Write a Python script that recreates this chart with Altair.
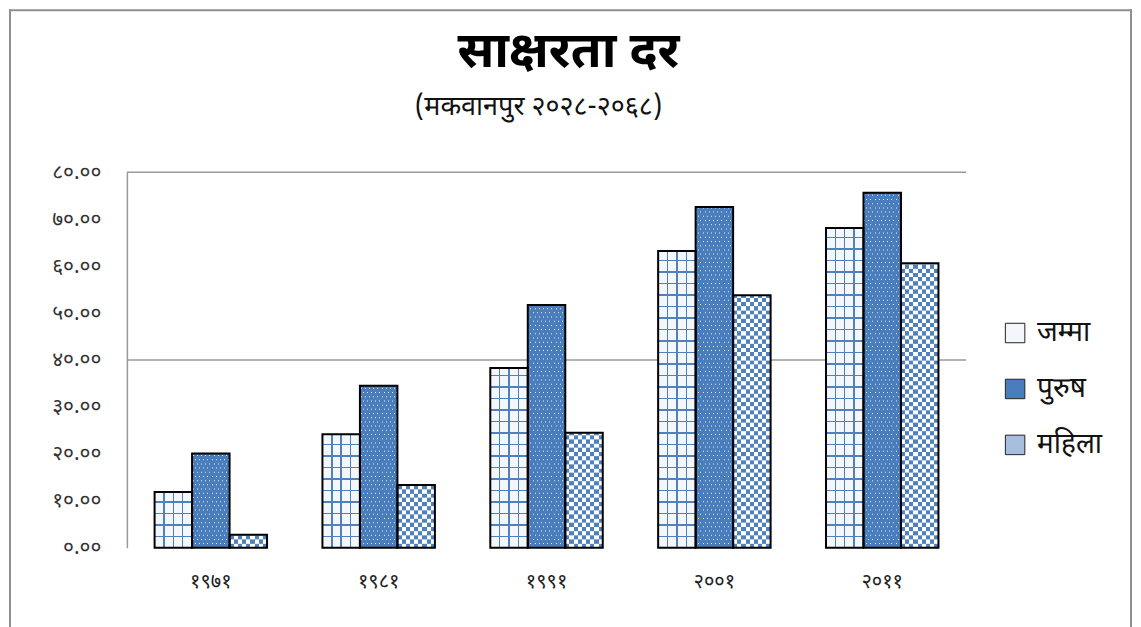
import json
import altair as alt
import pandas as pd

# ---- data ----
years = ["१९७१", "१९८१", "१९९१", "२००१", "२०११"]
series_names = ["जम्मा", "पुरुष", "महिला"]
jamma = [11.9, 24.2, 38.3, 63.2, 68.1]
purush = [20.1, 34.5, 51.7, 72.6, 75.6]
mahila = [2.8, 13.4, 24.5, 53.8, 60.6]
y_tick_values = [0, 10, 20, 30, 40, 50, 60, 70, 80]
y_tick_labels = ["०.००", "१०.००", "२०.००", "३०.००", "४०.००", "५०.००", "६०.००", "७०.००", "८०.००"]
grid_values = [40, 80]
title_text = "साक्षरता दर"
subtitle_text = "(मकवानपुर २०२८-२०६८)"

rows = []
for i, yr in enumerate(years):
    for j, (s, vals) in enumerate(zip(series_names, [jamma, purush, mahila])):
        rows.append({"year": yr, "series": s, "value": vals[i], "key": f"{j}_{i}"})
df = pd.DataFrame(rows)
grid_df = pd.DataFrame({"value": grid_values})

# ---- layout / style ----
W, H, YMAX = 840, 376, 80
PX = YMAX / H                      # data units per pixel
LEFT_EXT, TOP_GAP = 118, 163       # plot origin offset inside the chart
PAD_IN, PAD_OUT = 0.33, 0.165
STEP = W / (len(years) - PAD_IN + 2 * PAD_OUT)
BW = STEP * (1 - PAD_IN) / len(series_names)
BLUE = "#4f81bd"
FONT = "Noto Sans Devanagari, Lohit Devanagari, Mangal, Noto Sans, sans-serif"
CLEAR = "rgba(255,255,255,0)"
FRAME = "#8f8f8f"

xenc = alt.X("year:N", sort=years,
             scale=alt.Scale(domain=years, paddingInner=PAD_IN, paddingOuter=PAD_OUT),
             axis=alt.Axis(title=None, labelAngle=0, domain=False, ticks=False,
                           labelPadding=24, labelFontSize=20, labelFont=FONT, labelColor="#222"))
xoff = alt.XOffset("series:N", sort=series_names,
                   scale=alt.Scale(domain=series_names, paddingInner=0, paddingOuter=0))
label_expr = json.dumps(y_tick_labels, ensure_ascii=False) + "[round(datum.value/10)]"
yaxis = alt.Axis(title=None, values=y_tick_values, labelExpr=label_expr, grid=False,
                 domain=True, domainColor="#9a9a9a", domainWidth=1.5, ticks=False,
                 labelPadding=26, labelFontSize=21, labelFont=FONT, labelColor="#333",
                 minExtent=LEFT_EXT, maxExtent=LEFT_EXT)
yscale = alt.Scale(domain=[0, YMAX], nice=False, zero=True)
yenc = alt.Y("value:Q", scale=yscale, axis=yaxis)


def mk_stops(intervals, L, on, off):
    st = [(0.0, off)]
    for a, b in sorted(intervals):
        a, b = max(0.0, a), min(L, b)
        if b <= a:
            continue
        st += [(a / L, off), (a / L, on), (b / L, on), (b / L, off)]
    st.append((1.0, off))
    return [alt.GradientStop(offset=round(o, 5), color=c) for o, c in st]


def grad(stops, vertical):
    if vertical:
        return alt.LinearGradient(gradient="linear", stops=stops, x1=0, y1=0, x2=0, y2=1)
    return alt.LinearGradient(gradient="linear", stops=stops, x1=0, y1=0, x2=1, y2=0)


def from_bottom(L, period, thick):
    out, k = [], 1
    while True:
        c = L - k * period
        if c + thick < 0:
            break
        out.append((c - thick / 2, c + thick / 2))
        k += 1
    return out


def bars(filter_series=None, key=None, data=df):
    c = alt.Chart(data)
    if filter_series is not None:
        c = c.transform_filter(alt.FieldEqualPredicate(field="series", equal=filter_series))
    if key is not None:
        c = c.transform_filter(alt.FieldEqualPredicate(field="key", equal=key))
    return c


def enc(c):
    return c.encode(x=xenc, xOffset=xoff, y=yenc)


def seg_enc(c):
    return c.encode(x=xenc, xOffset=xoff, y=alt.Y("y0:Q", scale=yscale, axis=yaxis), y2="y1:Q")


# pattern strips derived from the series values
S = BW / 9          # checker square, px
DP = 4.2            # dot pitch, px
chk_rows, dot_rows = [], []
for i, yr in enumerate(years):
    v = mahila[i]
    k = 0
    while k * S * PX < v:
        chk_rows.append({"year": yr, "series": series_names[2], "y0": k * S * PX,
                         "y1": min((k + 1) * S * PX, v), "par": k % 2})
        k += 1
    v = purush[i]
    k = 1
    while k * DP * PX + PX < v:
        c = k * DP * PX
        dot_rows.append({"year": yr, "series": series_names[1], "y0": c - 0.5 * PX,
                         "y1": c + 0.5 * PX, "par": k % 2})
        k += 1
chk_df = pd.DataFrame(chk_rows)
dot_df = pd.DataFrame(dot_rows)

layers = []
# outer chart frame (decoration)
frame_df = pd.DataFrame({"f": [0]})
layers.append(alt.Chart(frame_df).mark_rule(color=FRAME, strokeWidth=2).encode(
    x=alt.value(-LEFT_EXT + 1), y=alt.value(-TOP_GAP), y2=alt.value(H + 120)))
layers.append(alt.Chart(frame_df).mark_rule(color=FRAME, strokeWidth=2).encode(
    x=alt.value(-LEFT_EXT), x2=alt.value(1006), y=alt.value(-TOP_GAP + 1)))
layers.append(alt.Chart(frame_df).mark_rule(color=FRAME, strokeWidth=2).encode(
    x=alt.value(1005), y=alt.value(-TOP_GAP), y2=alt.value(H + 120)))

# titles
layers.append(alt.Chart(pd.DataFrame({"t": [title_text]})).mark_text(
    font=FONT, fontSize=50, fontWeight="bold", color="#000", align="center", baseline="alphabetic"
).encode(text="t:N", x=alt.value(442), y=alt.value(-105)))
layers.append(alt.Chart(pd.DataFrame({"t": [subtitle_text]})).mark_text(
    font=FONT, fontSize=27, color="#111", align="center", baseline="alphabetic"
).encode(text="t:N", x=alt.value(412), y=alt.value(-57)))

# gridlines
layers.append(alt.Chart(grid_df).mark_rule(color="#9a9a9a", strokeWidth=1.5).encode(y=yenc))
# base bars (drive the legend)
layers.append(
    bars().mark_bar().encode(
        x=xenc, xOffset=xoff, y=yenc,
        color=alt.Color("series:N", sort=series_names,
                        scale=alt.Scale(domain=series_names, range=["#f3f7fc", "#4a7dbc", "#a7bedf"]),
                        legend=alt.Legend(title=None, orient="none", legendX=875, legendY=147,
                                          symbolType="square", symbolSize=380,
                                          symbolStrokeColor="#222", symbolStrokeWidth=1,
                                          labelFontSize=28, labelFont=FONT, labelColor="#111",
                                          rowPadding=28, labelOffset=8, padding=0, labelLimit=0)))
)

# ---- जम्मा : blue grid on white ----
v_lines = [(k * BW / 4 - 0.7, k * BW / 4 + 0.7) for k in (1, 2, 3)]
layers.append(enc(bars(series_names[0]).mark_bar(fill=grad(mk_stops(v_lines, BW, BLUE, CLEAR), False))))
for i, v in enumerate(jamma):
    L = v * H / YMAX
    st = mk_stops(from_bottom(L, 11.5, 1.4), L, BLUE, CLEAR)
    layers.append(enc(bars(key=f"0_{i}").mark_bar(fill=grad(st, True))))

# ---- पुरुष : blue with small pale dots (staggered rows) ----
DOT = "#e4ecf7"
dots_a = [(k * DP + 0.6, k * DP + 1.6) for k in range(int(BW / DP) + 1)]
dots_b = [(k * DP + 0.6 + DP / 2, k * DP + 1.6 + DP / 2) for k in range(int(BW / DP) + 1)]
for par, cols in ((0, dots_a), (1, dots_b)):
    layers.append(seg_enc(
        alt.Chart(dot_df).transform_filter(alt.FieldEqualPredicate(field="par", equal=par))
        .mark_bar(fill=grad(mk_stops(cols, BW, DOT, CLEAR), False))))

# ---- महिला : blue / white checkerboard ----
chk_a = [(2 * k * S, 2 * k * S + S) for k in range(5)]
chk_b = [((2 * k + 1) * S, (2 * k + 2) * S) for k in range(4)]
for par, cols in ((0, chk_a), (1, chk_b)):
    layers.append(seg_enc(
        alt.Chart(chk_df).transform_filter(alt.FieldEqualPredicate(field="par", equal=par))
        .mark_bar(fill=grad(mk_stops(cols, BW, BLUE, "#ffffff"), False))))

# ---- outlines ----
layers.append(enc(bars().mark_bar(fillOpacity=0, stroke="#000000", strokeWidth=2)))

chart = (
    alt.layer(*layers)
    .properties(width=W, height=H, padding={"left": 0, "top": 0, "right": 0, "bottom": 0},
                background="#ffffff")
    .configure_view(stroke="transparent", strokeWidth=0)
)

chart.save("out.html", embed_options={"renderer": "svg", "actions": False})
